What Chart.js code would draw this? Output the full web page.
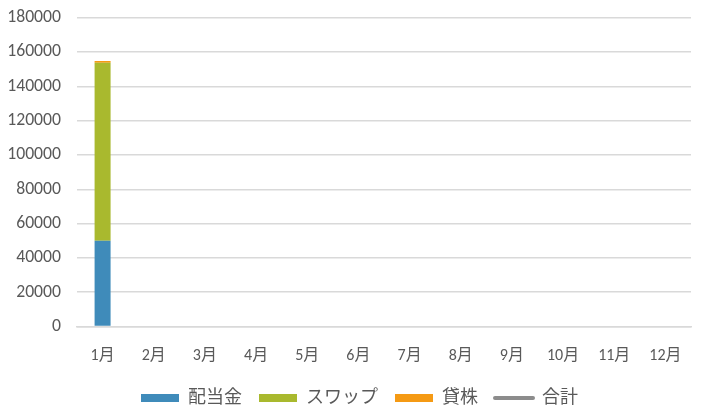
<!DOCTYPE html>
<html><head><meta charset="utf-8">
<script src="https://cdn.jsdelivr.net/npm/chart.js@4.4.1/dist/chart.umd.min.js"></script>
<style>html,body{margin:0;padding:0;background:#fff;}#wrap{width:709px;height:411px;}</style>
</head><body><div id="wrap"><canvas id="c"></canvas></div>
<script>
const categories = ['1月','2月','3月','4月','5月','6月','7月','8月','9月','10月','11月','12月'];
const dividends = [50000,null,null,null,null,null,null,null,null,null,null,null];
const swaps = [103800,null,null,null,null,null,null,null,null,null,null,null];
const lending = [900,null,null,null,null,null,null,null,null,null,null,null];
const totals = [154700,null,null,null,null,null,null,null,null,null,null,null];
const yTicks = [0,20000,40000,60000,80000,100000,120000,140000,160000,180000];
const legendOrder = ['配当金','スワップ','貸株','合計'];

const FONT = 'Calibri, Carlito, "Liberation Sans", "Noto Sans CJK JP", sans-serif';
Chart.defaults.font.family = FONT;
Chart.defaults.color = '#595959';

const legendShift = {
  id:'legendShift',
  afterLayout(chart){ if (chart.legend) { chart.legend.left += 14; chart.legend.right += 14; } }
};

new Chart(document.getElementById('c'), {
  data: {
    labels: categories,
    datasets: [
      {type:'line', label:'合計', data: totals, borderColor:'#8c8c8c', backgroundColor:'#8c8c8c', borderWidth:4, pointRadius:0, pointStyle:'line', order:0},
      {type:'bar', label:'配当金', data: dividends, backgroundColor:'#3f8bba', borderWidth:0, pointStyle:'rect', order:1},
      {type:'bar', label:'スワップ', data: swaps, backgroundColor:'#a9b92e', borderWidth:0, pointStyle:'rect', order:1},
      {type:'bar', label:'貸株', data: lending, backgroundColor:'#f59a14', borderWidth:0, pointStyle:'rect', order:1}
    ]
  },
  plugins:[legendShift],
  options: {
    responsive:true, maintainAspectRatio:false, animation:false,
    layout:{padding:{left:0,right:18,top:0,bottom:-6}},
    datasets:{bar:{barPercentage:0.625, categoryPercentage:0.5}},
    plugins:{
      tooltip:{enabled:false},
      legend:{
        position:'bottom',
        labels:{
          usePointStyle:true, pointStyleWidth:38, boxHeight:8, padding:17, font:{size:18},
          color:'#595959',
          sort:(a,b)=>legendOrder.indexOf(a.text)-legendOrder.indexOf(b.text),
          generateLabels:(chart)=>{
            const items = Chart.defaults.plugins.legend.labels.generateLabels(chart);
            items.forEach(it=>{ if (it.pointStyle==='line') { it.lineCap='round'; it.lineWidth=4; } });
            return items;
          }
        }
      }
    },
    scales:{
      x:{stacked:true, grid:{display:false, drawTicks:false}, border:{display:true,color:'#d9d9d9',width:1.5},
         ticks:{padding:20, font:{size:16}, color:'#595959'},
         afterFit:(s)=>{ s.height = 45.5; }},
      y:{stacked:true, min:0, max:180000,
         afterBuildTicks:(ax)=>{ax.ticks = yTicks.map(v=>({value:v}));},
         grid:{color:'#d9d9d9', lineWidth:1.5, drawTicks:false},
         border:{display:false},
         ticks:{padding:16, font:{size:17.7}, color:'#595959', callback:(v)=>String(v)},
         afterFit:(s)=>{ s.width = 77; s.paddingTop = 17.7; }}
    }
  }
});
</script></body></html>
